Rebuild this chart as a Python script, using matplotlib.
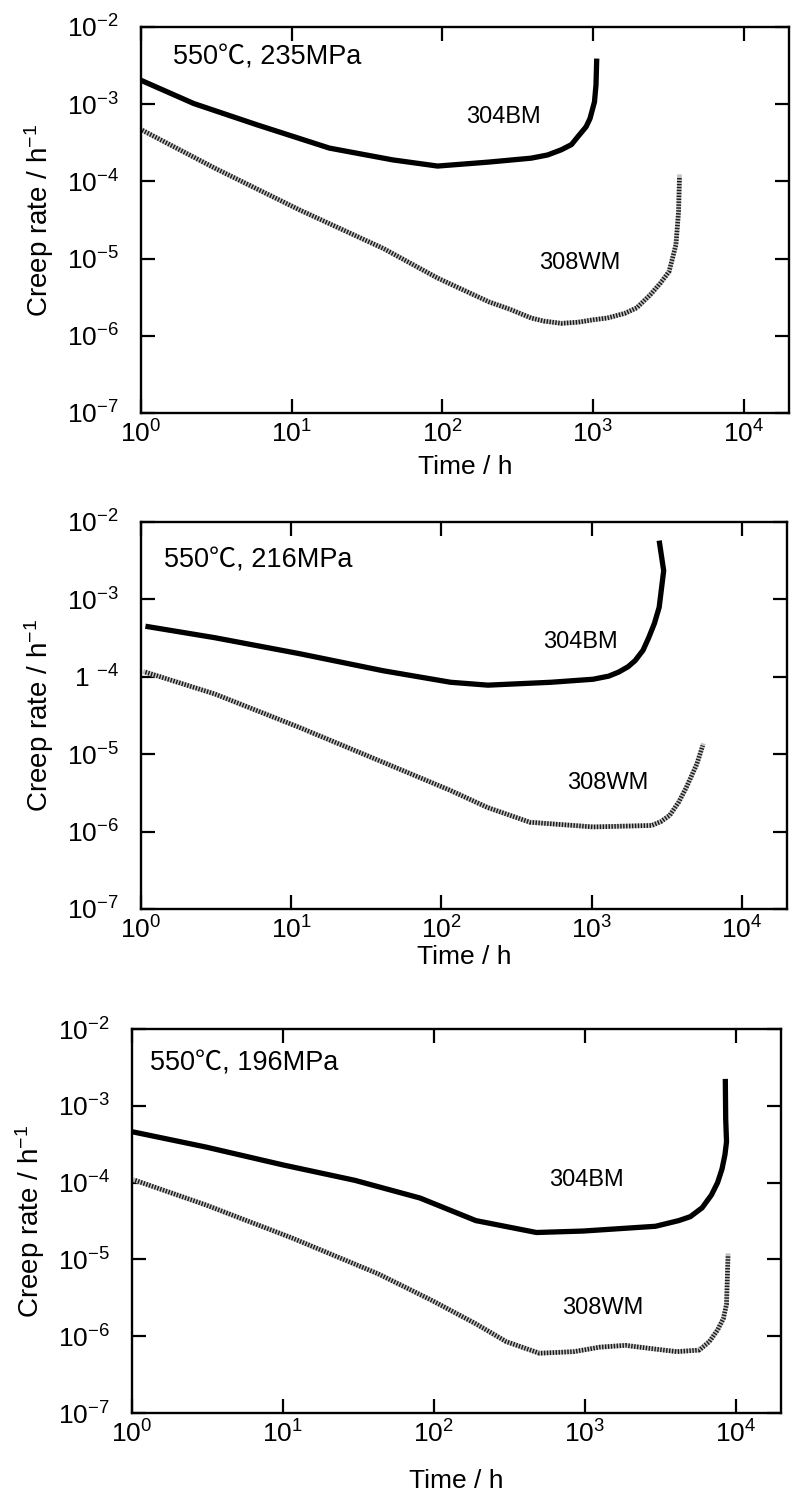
import matplotlib
matplotlib.use("Agg")
import matplotlib.pyplot as plt
from matplotlib.ticker import NullLocator

plt.rcParams['font.family'] = ['Liberation Sans', 'Noto Sans CJK JP', 'DejaVu Sans']
plt.rcParams['mathtext.fontset'] = 'custom'
plt.rcParams['mathtext.rm'] = 'Liberation Sans'
plt.rcParams['mathtext.it'] = 'Liberation Sans'
plt.rcParams['mathtext.default'] = 'regular'

# ---------------- data ----------------
titles = ["550℃, 235MPa", "550℃, 216MPa", "550℃, 196MPa"]
x_ticks = [1, 10, 100, 1000, 10000]
x_ticklabels = [r'$10^{0}$', r'$10^{1}$', r'$10^{2}$', r'$10^{3}$', r'$10^{4}$']
y_ticks = [1e-7, 1e-6, 1e-5, 1e-4, 1e-3, 1e-2]
y_ticklabels = [r'$10^{-7}$', r'$10^{-6}$', r'$10^{-5}$', r'$10^{-4}$', r'$10^{-3}$', r'$10^{-2}$']
y_ticklabels_p2 = [r'$10^{-7}$', r'$10^{-6}$', r'$10^{-5}$', r'$1\ {}^{-4}$', r'$10^{-3}$', r'$10^{-2}$']

# Panel 1 (235 MPa)
p1_bm_t = [1, 2.24, 5.9, 17.8, 46.8, 93, 204, 389, 500, 617, 720, 794, 900, 955, 1023, 1047, 1059]
p1_bm_rate = [2.04e-3, 1.02e-3, 5.4e-4, 2.7e-4, 1.9e-4, 1.58e-4, 1.78e-4, 2.0e-4, 2.2e-4,
              2.57e-4, 3.0e-4, 3.8e-4, 5.1e-4, 6.5e-4, 1.07e-3, 1.78e-3, 3.9e-3]
p1_wm_t = [1.02, 3.1, 11.2, 40.7, 93, 204, 282, 389, 473, 617, 794, 1023, 1245, 1622,
           1950, 2400, 2800, 3200, 3550, 3700, 3750]
p1_wm_rate = [4.6e-4, 1.48e-4, 4.3e-5, 1.35e-5, 5.6e-6, 2.75e-6, 2.2e-6, 1.7e-6, 1.55e-6,
              1.45e-6, 1.5e-6, 1.62e-6, 1.7e-6, 1.95e-6, 2.3e-6, 3.4e-6, 4.8e-6, 6.8e-6,
              1.5e-5, 4.1e-5, 1.15e-4]

# Panel 2 (216 MPa)
p2_bm_t = [1.07, 3.1, 11.2, 40.7, 115, 204, 537, 1023, 1300, 1514, 1750, 1950, 2200,
           2400, 2620, 2818, 3020, 2818]
p2_bm_rate = [4.5e-4, 3.2e-4, 2.0e-4, 1.2e-4, 8.5e-5, 7.8e-5, 8.5e-5, 9.3e-5, 1.02e-4,
              1.15e-4, 1.35e-4, 1.62e-4, 2.2e-4, 3.2e-4, 4.9e-4, 7.9e-4, 2.35e-3, 5.75e-3]
p2_wm_t = [1.07, 3.1, 11.2, 40.7, 115, 204, 389, 1023, 2512, 2900, 3311, 3800, 4266,
           5012, 5495]
p2_wm_rate = [1.15e-4, 6.0e-5, 2.24e-5, 7.9e-6, 3.4e-6, 2.04e-6, 1.32e-6, 1.15e-6,
              1.2e-6, 1.35e-6, 1.62e-6, 2.4e-6, 3.7e-6, 7.4e-6, 1.29e-5]

# Panel 3 (196 MPa)
p3_bm_t = [1, 3.1, 10, 30, 81, 190, 479, 977, 2951, 4200, 5012, 6000, 6918, 7600, 8128,
           8500, 8710, 8600, 8550]
p3_bm_rate = [4.6e-4, 2.9e-4, 1.7e-4, 1.07e-4, 6.3e-5, 3.2e-5, 2.24e-5, 2.34e-5,
              2.7e-5, 3.2e-5, 3.6e-5, 4.7e-5, 6.9e-5, 1.0e-4, 1.5e-4, 2.3e-4, 3.4e-4,
              6.8e-4, 2.24e-3]
p3_wm_t = [1.05, 3.1, 11.5, 42.7, 98, 190, 302, 501, 851, 1259, 1862, 2754, 4074,
           5754, 6700, 7586, 8300, 8710, 8913]
p3_wm_rate = [1.07e-4, 5.1e-5, 1.9e-5, 6.5e-6, 2.9e-6, 1.45e-6, 8.5e-7, 6.0e-7, 6.3e-7,
              7.2e-7, 7.6e-7, 6.9e-7, 6.3e-7, 6.6e-7, 8.5e-7, 1.2e-6, 1.7e-6, 2.6e-6,
              1.12e-5]

# ---------------- layout ----------------
W, H = 795, 1506
fig = plt.figure(figsize=(W / 100, H / 100), dpi=100)

panels = [
    dict(box=(141, 27, 789, 413), bm=(p1_bm_t, p1_bm_rate), wm=(p1_wm_t, p1_wm_rate),
         title=titles[0], tpos=(0.049, 0.922), bmpos=(0.56, 0.767), wmpos=(0.677, 0.389),
         ylabels=y_ticklabels, xlpad=6),
    dict(box=(141, 522, 787, 909), bm=(p2_bm_t, p2_bm_rate), wm=(p2_wm_t, p2_wm_rate),
         title=titles[1], tpos=(0.036, 0.90), bmpos=(0.68, 0.69), wmpos=(0.723, 0.326),
         ylabels=y_ticklabels_p2, xlpad=1),
    dict(box=(132, 1029, 781, 1413), bm=(p3_bm_t, p3_bm_rate), wm=(p3_wm_t, p3_wm_rate),
         title=titles[2], tpos=(0.028, 0.909), bmpos=(0.70, 0.607), wmpos=(0.726, 0.273),
         ylabels=y_ticklabels, xlpad=16),
]

for p in panels:
    l, t, r, b = p['box']
    ax = fig.add_axes([l / W, 1 - b / H, (r - l) / W, (b - t) / H])
    ax.set_xscale('log')
    ax.set_yscale('log')
    ax.set_xlim(1, 2e4)
    ax.set_ylim(1e-7, 1e-2)

    # 304BM thick solid
    ax.plot(p['bm'][0], p['bm'][1], color='black', lw=3.8, solid_capstyle='butt',
            solid_joinstyle='round')
    # 308WM hatched line
    ax.plot(p['wm'][0], p['wm'][1], color='#c4c4c4', lw=3.4, solid_joinstyle='round')
    ax.plot(p['wm'][0], p['wm'][1], color='#1a1a1a', lw=3.4, dashes=(0.3, 0.32))

    ax.text(p['tpos'][0], p['tpos'][1], p['title'], transform=ax.transAxes,
            fontsize=19.5, ha='left', va='center')
    ax.text(p['bmpos'][0], p['bmpos'][1], '304BM', transform=ax.transAxes,
            fontsize=17, ha='center', va='center')
    ax.text(p['wmpos'][0], p['wmpos'][1], '308WM', transform=ax.transAxes,
            fontsize=17, ha='center', va='center')

    ax.set_xticks(x_ticks)
    ax.set_xticklabels(x_ticklabels)
    ax.set_yticks(y_ticks)
    ax.set_yticklabels(p['ylabels'])
    ax.xaxis.set_minor_locator(NullLocator())
    ax.yaxis.set_minor_locator(NullLocator())
    ax.tick_params(which='major', direction='in', length=10, width=1.6,
                   top=True, right=True, labelsize=19)
    ax.tick_params(axis='y', pad=16)
    ax.tick_params(axis='x', pad=5)
    for s in ax.spines.values():
        s.set_linewidth(1.7)

    ax.set_xlabel('Time / h', fontsize=19, labelpad=p['xlpad'])
    ax.set_ylabel(r'Creep rate / h$^{-1}$', fontsize=20, labelpad=8)

fig.savefig('out.png', dpi=100, facecolor='white')
